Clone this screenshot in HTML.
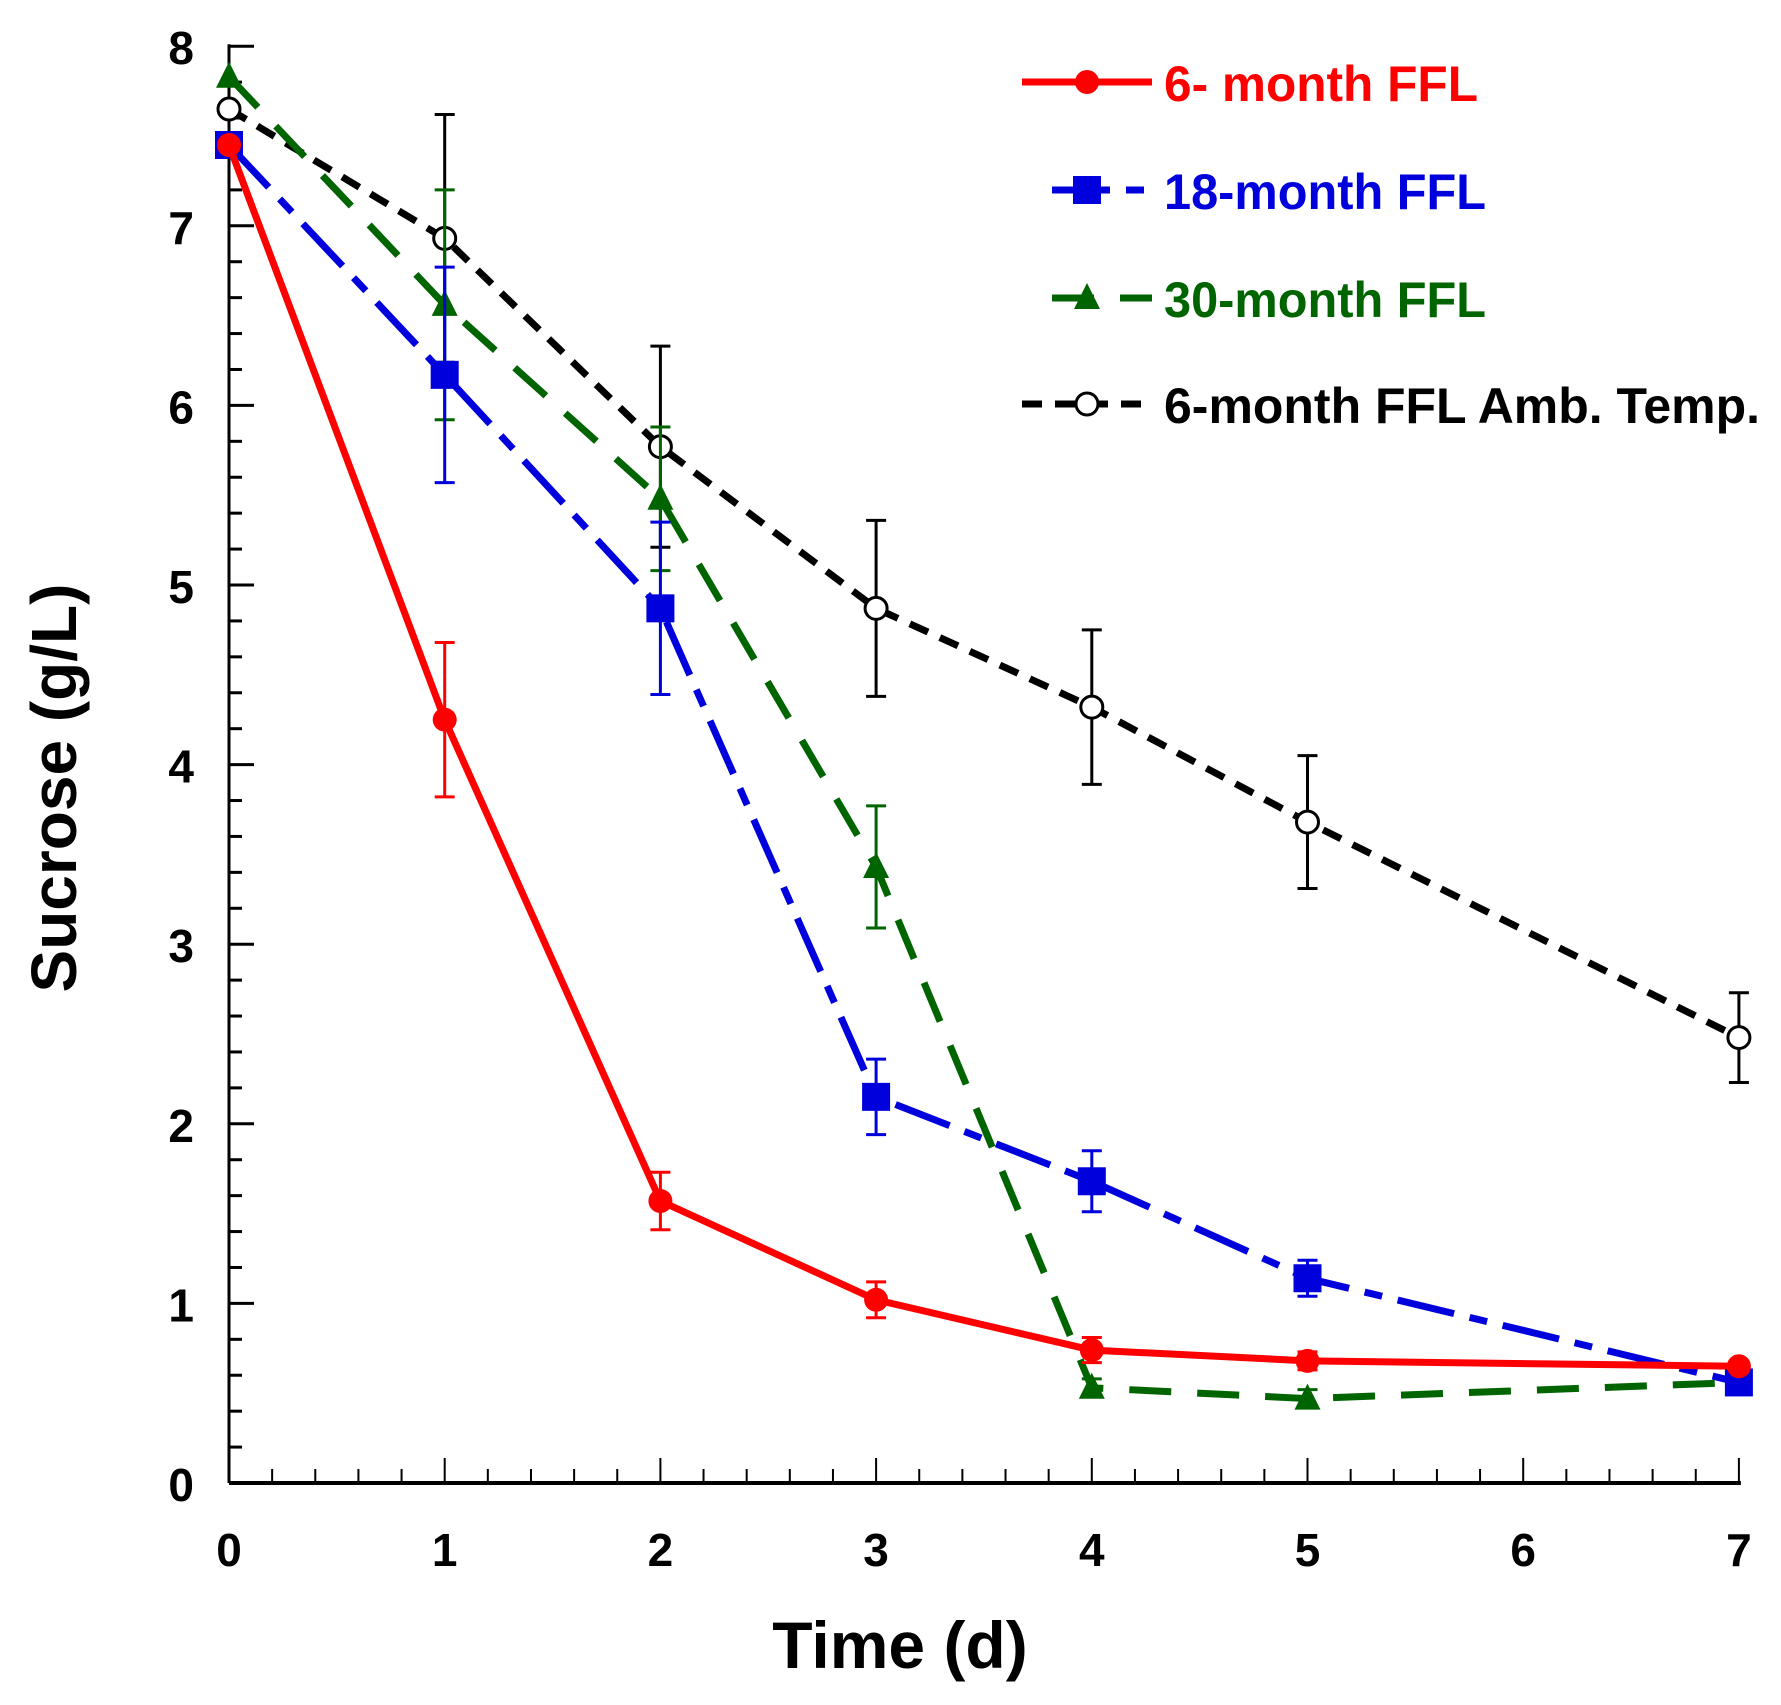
<!DOCTYPE html>
<html><head><meta charset="utf-8"><style>
html,body{margin:0;padding:0;background:#fff}
svg{display:block}
text{font-family:"Liberation Sans",Arial,sans-serif;font-weight:bold}
</style></head><body>
<svg id="chart" width="1781" height="1705" viewBox="0 0 1781 1705">
<g id="axes"></g>
<g id="series"></g>
<g id="legend"></g>
<text x="900" y="1668" font-size="66" text-anchor="middle">Time (d)</text>
<text transform="translate(76,788) rotate(-90)" font-size="64" text-anchor="middle">Sucrose (g/L)</text>
</svg>
<script>
const days = [0,1,2,3,4,5,7];
const xTicks = [0,1,2,3,4,5,6,7];
const yTicks = [0,1,2,3,4,5,6,7,8];
const red = [7.45,4.25,1.57,1.02,0.74,0.68,0.65];
const redErr = [0,0.43,0.16,0.1,0.07,0.05,0.02];
const blue = [7.45,6.17,4.87,2.15,1.68,1.14,0.56];
const blueErr = [0,0.6,0.48,0.21,0.17,0.1,0];
const green = [7.83,6.56,5.48,3.43,0.53,0.47,0.56];
const greenErr = [0,0.64,0.4,0.34,0.05,0.05,0];
const black = [7.65,6.93,5.77,4.87,4.32,3.68,2.48];
const blackErr = [0,0.69,0.56,0.49,0.43,0.37,0.25];
const seriesNames = ["6- month FFL","18-month FFL","30-month FFL","6-month FFL Amb. Temp."];

const NS="http://www.w3.org/2000/svg";
const X0=229, XS=215.7, Y0=1483, YS=179.6;
const xs=v=>X0+v*XS, ys=v=>Y0-v*YS;
function mk(tag,attrs,parent){const e=document.createElementNS(NS,tag);for(const k in attrs)e.setAttribute(k,attrs[k]);parent.appendChild(e);return e;}
const axes=document.getElementById('axes');
let a=mk('line',{x1:X0,y1:ys(8)-2,x2:X0,y2:Y0,stroke:'#000','stroke-width':3},axes);


a=mk('line',{x1:X0,y1:Y0,x2:xs(7)+2,y2:Y0,stroke:'#000','stroke-width':4},axes);


for(let i=0;i<=40;i++){const v=i*0.2;const maj=i%5===0;
 mk('line',{x1:X0,y1:ys(v),x2:X0+(maj?25:13),y2:ys(v),stroke:'#000','stroke-width':3},axes);}
for(let i=0;i<=35;i++){const v=i*0.2;const maj=i%5===0;
 mk('line',{x1:xs(v),y1:Y0,x2:xs(v),y2:Y0-(maj?25:14),stroke:'#000','stroke-width':2},axes);}
yTicks.forEach(v=>{const t=mk('text',{x:194,y:ys(v)+18,'font-size':46,'text-anchor':'end'},axes);t.textContent=v;
 
 });
xTicks.forEach(v=>{const t=mk('text',{x:xs(v),y:1566,'font-size':46,'text-anchor':'middle'},axes);t.textContent=v;
 
 });

const defs=[
 {vals:black,err:blackErr,color:'#000',dash:'20 13',marker:'circle-open',name:'series-6-month-amb'},
 {vals:green,err:greenErr,color:'#006400',dash:'42 26',marker:'tri',name:'series-30-month'},
 {vals:blue,err:blueErr,color:'#0000dd',dash:'58 16 18 16',marker:'square',name:'series-18-month'},
 {vals:red,err:redErr,color:'#ff0000',dash:'none',marker:'circle',name:'series-6-month'}];
const sg=document.getElementById('series');
function marker(type,x,y,color,g){
 if(type==='circle')return mk('circle',{cx:x,cy:y,r:12,fill:color},g);
 if(type==='circle-open')return mk('circle',{cx:x,cy:y,r:11,fill:'#fff',stroke:color,'stroke-width':3},g);
 if(type==='square')return mk('rect',{x:x-14,y:y-14,width:28,height:28,fill:color},g);
 return mk('polygon',{points:`${x},${y-15} ${x-13},${y+11} ${x+13},${y+11}`,fill:color},g);
}
defs.forEach(d=>{
 const g=mk('g',{},sg);
 
 
 d.vals.forEach((v,i)=>{if(d.err[i]>0){const x=xs(days[i]);
  mk('line',{x1:x,y1:ys(v+d.err[i]),x2:x,y2:ys(v-d.err[i]),stroke:d.color,'stroke-width':3},g);
  [v+d.err[i],v-d.err[i]].forEach(e=>mk('line',{x1:x-10,y1:ys(e),x2:x+10,y2:ys(e),stroke:d.color,'stroke-width':3},g));}});
 const p=mk('polyline',{points:d.vals.map((v,i)=>xs(days[i])+','+ys(v)).join(' '),fill:'none',stroke:d.color,'stroke-width':7,'stroke-dasharray':d.dash},g);
 
 
 d.vals.forEach((v,i)=>{const m=marker(d.marker,xs(days[i]),ys(v),d.color,g);
  
  });
});

const lg=document.getElementById('legend');
const leg=[
 {c:'#ff0000',dash:'none',m:'circle',x1:1022,y:82,tw:314},
 {c:'#0000dd',dash:'58 16 18 16',m:'square',x1:1052,y:190,tw:322},
 {c:'#006400',dash:'42 26',m:'tri',x1:1052,y:298,tw:322},
 {c:'#000',dash:'20 13',m:'circle-open',x1:1022,y:404,tw:596}];
leg.forEach((l,i)=>{
 const g=mk('g',{},lg);
 
 
 mk('line',{x1:l.x1,y1:l.y,x2:1152,y2:l.y,stroke:l.c,'stroke-width':7,'stroke-dasharray':l.dash},g);
 marker(l.m,1087,l.y,l.c,g);
 const t=mk('text',{x:1164,y:l.y+19,'font-size':50,fill:l.c,textLength:l.tw,lengthAdjust:'spacingAndGlyphs'},g);
 t.textContent=seriesNames[i];
});
</script>
</body></html>
